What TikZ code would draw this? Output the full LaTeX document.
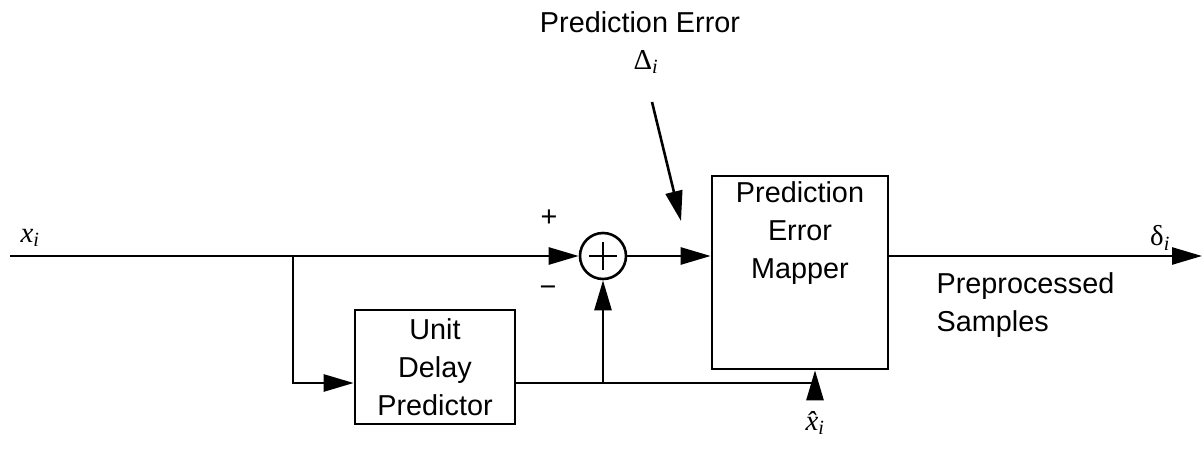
\documentclass[tikz,border=0pt]{standalone}
\usepackage{fontspec}
\setmainfont{Liberation Sans}
\newfontfamily\tms{Liberation Serif}
\usetikzlibrary{calc,arrows.meta}
\newcommand\var[2]{{\tms #1\textsubscript{\itshape #2}}}

\begin{document}
\begin{tikzpicture}[x=1pt,y=1pt,line width=2.6pt,
		blk/.style={draw,align=center,inner sep=0pt},
		arr/.style={-{Triangle[length=30pt,width=17pt]}},
		lbl/.style={font=\fontsize{28.8}{38}\selectfont}]
			\useasboundingbox (0,0) rectangle (1204,449);
			% blocks
			\node [blk,minimum width=176,minimum height=193] (map) at (800,176.5) {};
			\node [lbl,align=center] (t-map) at (800,216) {Prediction\\Error\\Mapper};
			\node [blk,lbl,minimum width=160,minimum height=114] (pred) at (435,82) {Unit\\Delay\\Predictor};
			\node [draw,circle,minimum size=46,inner sep=0pt] (sum) at (603,193) {};
			\draw (sum.center) ++(-14,0) -- ++(28,0) (sum.center) ++(0,-14) -- ++(0,28);
			% points
			\coordinate (in) at (10,193);
			\coordinate (out) at (1202,193);
			\coordinate (br) at (293,193);
			\coordinate (fb) at (603,66);
			\coordinate (fm) at (815,66);
			\coordinate (err) at (652,347);
			% connectors
			\draw [arr] (in) -- (sum.west);
			\draw [arr] (sum.east) -- (map.west |- sum.east);
			\draw [arr] (map.east |- out) -- (out);
			\draw [arr] (br) |- (pred.west |- fb);
			\draw (pred.east |- fb) -- (fm);
			\draw [arr] (fb) -- (sum.south);
			\draw [arr] (fm) -- (fm |- map.south);
			\draw [arr] (err) -- (681,228);
			% labels
			\node [lbl] (t-err) at (640,427) {Prediction Error};
			\node [lbl] (t-d) at (646,387) {\var{Δ}{i}};
			\node [lbl] (t-x) at (30,211) {\var{\itshape x}{i}};
			\node [lbl] (t-p) at (549,231) {+};
			\node [lbl] (t-m) at (548,158) {−};
			\node [lbl] (t-o) at (1160,211) {\var{δ}{i}};
			\node [lbl,align=left,anchor=west] (t-s) at (932,144) {Preprocessed\\Samples};
			\node [lbl] (t-h) at (815,26) {\var{\itshape \^{x}}{i}};
			\end{tikzpicture}
\end{document}
